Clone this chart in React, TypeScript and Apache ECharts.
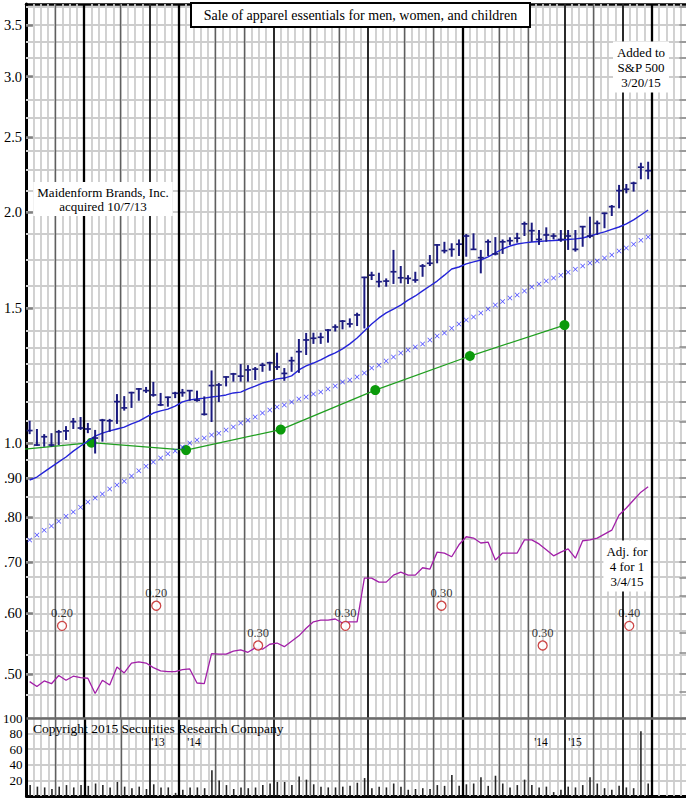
import React, { useEffect, useRef } from "react";
import * as echarts from "echarts";

const SERIF = '"Liberation Serif", "Times New Roman", serif';

// ---- axis extents (week index on x, price on log y) ----
const X_MIN = -0.5;
const X_MAX = 90.2;
const P_MIN = 0.4385;
const P_MAX = 3.729;

// ---- weekly price bars ----
const high = [
  1.069, 1.043, 1.027, 1.03, 1.04, 1.052, 1.078, 1.081, 1.062, 1.04,
  1.075, 1.075, 1.158, 1.151, 1.166, 1.179, 1.183, 1.201, 1.162, 1.149,
  1.166, 1.176, 1.172, 1.17, 1.15, 1.243, 1.197, 1.221, 1.234, 1.267,
  1.263, 1.256, 1.272, 1.276, 1.311, 1.252, 1.295, 1.366, 1.391, 1.392,
  1.392, 1.407, 1.427, 1.446, 1.453, 1.478, 1.646, 1.671, 1.666, 1.638,
  1.784, 1.7, 1.654, 1.671, 1.71, 1.757, 1.814, 1.828, 1.82, 1.841,
  1.871, 1.875, 1.784, 1.841, 1.854, 1.841, 1.853, 1.878, 1.942, 1.936,
  1.894, 1.909, 1.875, 1.894, 1.894, 1.894, 1.917, 1.971, 1.948, 1.995,
  2.041, 2.168, 2.174, 2.189, 2.317, 2.324,
];
const low = [
  1.027, 0.991, 0.989, 0.989, 0.994, 1.009, 1.043, 1.04, 1.03, 0.969,
  1.004, 1.034, 1.059, 1.102, 1.111, 1.135, 1.162, 1.149, 1.117, 1.115,
  1.144, 1.149, 1.135, 1.132, 1.086, 1.065, 1.131, 1.185, 1.202, 1.202,
  1.202, 1.208, 1.238, 1.242, 1.245, 1.205, 1.238, 1.234, 1.302, 1.346,
  1.346, 1.351, 1.397, 1.406, 1.414, 1.42, 1.41, 1.63, 1.595, 1.598,
  1.611, 1.614, 1.611, 1.617, 1.646, 1.7, 1.714, 1.766, 1.748, 1.752,
  1.748, 1.784, 1.663, 1.752, 1.755, 1.763, 1.811, 1.823, 1.86, 1.828,
  1.811, 1.828, 1.841, 1.828, 1.784, 1.775, 1.801, 1.848, 1.866, 1.904,
  1.975, 2.021, 2.114, 2.125, 2.205, 2.205,
];
const close = [
  1.038, 0.994, 1.019, 0.994, 1.034, 1.037, 1.066, 1.046, 1.043, 1.015,
  1.071, 1.069, 1.132, 1.111, 1.163, 1.176, 1.17, 1.155, 1.121, 1.147,
  1.161, 1.163, 1.17, 1.137, 1.09, 1.188, 1.19, 1.219, 1.23, 1.222,
  1.245, 1.248, 1.263, 1.272, 1.256, 1.232, 1.28, 1.315, 1.362, 1.369,
  1.373, 1.403, 1.416, 1.441, 1.429, 1.468, 1.643, 1.654, 1.622, 1.625,
  1.671, 1.641, 1.638, 1.63, 1.7, 1.714, 1.811, 1.78, 1.787, 1.815,
  1.86, 1.787, 1.743, 1.828, 1.763, 1.828, 1.834, 1.848, 1.929, 1.89,
  1.841, 1.866, 1.86, 1.841, 1.86, 1.787, 1.913, 1.86, 1.932, 1.991,
  2.031, 2.131, 2.14, 2.179, 2.286, 2.262,
];

// ---- moving average (solid blue) ----
const movingAvg = [
  0.895, 0.903, 0.917, 0.931, 0.945, 0.959, 0.976, 0.991, 1.006, 1.021,
  1.03, 1.037, 1.043, 1.049, 1.059, 1.068, 1.081, 1.094, 1.101, 1.107,
  1.117, 1.131, 1.138, 1.141, 1.144, 1.148, 1.151, 1.155, 1.162, 1.165,
  1.176, 1.186, 1.197, 1.204, 1.212, 1.215, 1.223, 1.245, 1.26, 1.271,
  1.283, 1.298, 1.31, 1.326, 1.346, 1.37, 1.399, 1.429, 1.455, 1.477,
  1.494, 1.512, 1.535, 1.554, 1.578, 1.601, 1.625, 1.654, 1.685, 1.695,
  1.711, 1.721, 1.731, 1.747, 1.768, 1.789, 1.805, 1.816, 1.822, 1.827,
  1.83, 1.833, 1.835, 1.838, 1.841, 1.844, 1.849, 1.86, 1.872, 1.883,
  1.897, 1.911, 1.929, 1.952, 1.981, 2.011,
];

// ---- blue "x" line ----
const xLine = [
  0.7475, 0.759, 0.77, 0.78, 0.791, 0.803, 0.813, 0.825, 0.838, 0.848,
  0.858, 0.871, 0.882, 0.892, 0.906, 0.92, 0.933, 0.945, 0.956, 0.968,
  0.976, 0.988, 1.0, 1.009, 1.015, 1.024, 1.03, 1.04, 1.049, 1.062,
  1.071, 1.081, 1.094, 1.104, 1.114, 1.121, 1.131, 1.141, 1.148, 1.158,
  1.165, 1.176, 1.186, 1.201, 1.208, 1.219, 1.234, 1.252, 1.263, 1.279,
  1.294, 1.31, 1.322, 1.334, 1.346, 1.362, 1.378, 1.391, 1.411, 1.429,
  1.446, 1.459, 1.477, 1.494, 1.512, 1.528, 1.545, 1.558, 1.577, 1.596,
  1.611, 1.625, 1.64, 1.654, 1.669, 1.684, 1.7, 1.715, 1.726, 1.741,
  1.757, 1.778, 1.794, 1.815, 1.837, 1.854,
];

// ---- quarterly green line ----
const earnWeek = [-4.5, 8.5, 21.5, 34.5, 47.5, 60.5, 73.5];
const earnVal = [0.974, 1.001, 0.979, 1.041, 1.172, 1.298, 1.424];

// ---- relative strength (purple) ----
const relStrength = [
  0.489, 0.482, 0.49, 0.486, 0.498, 0.491, 0.497, 0.495, 0.494, 0.472,
  0.491, 0.484, 0.511, 0.502, 0.517, 0.519, 0.517, 0.51, 0.505, 0.504,
  0.504, 0.507, 0.508, 0.487, 0.486, 0.532, 0.531, 0.531, 0.536, 0.538,
  0.534, 0.541, 0.539, 0.547, 0.549, 0.543, 0.552, 0.561, 0.574, 0.585,
  0.588, 0.588, 0.59, 0.583, 0.585, 0.585, 0.667, 0.667, 0.659, 0.659,
  0.673, 0.679, 0.673, 0.673, 0.688, 0.685, 0.721, 0.719, 0.711, 0.737,
  0.755, 0.752, 0.741, 0.743, 0.704, 0.719, 0.719, 0.719, 0.748, 0.748,
  0.739, 0.726, 0.713, 0.721, 0.728, 0.708, 0.746, 0.748, 0.752, 0.761,
  0.77, 0.806, 0.823, 0.843, 0.863, 0.877,
];

// ---- weekly volume ----
const volume = [
  14, 12, 11, 9, 12, 14, 11, 14, 13, 16, 14, 11, 18, 12, 10, 12, 9, 15, 11, 11,
  4, 8, 11, 11, 10, 33, 20, 14, 9, 11, 10, 11, 14, 16, 18, 18, 14, 25, 21, 15,
  12, 11, 11, 12, 13, 17, 23, 10, 12, 11, 16, 12, 8, 9, 10, 9, 14, 13, 27, 13,
  15, 16, 24, 13, 26, 16, 11, 14, 21, 14, 11, 12, 5, 8, 12, 11, 14, 24, 16, 10,
  8, 13, 11, 10, 83, 16,
];

// ---- dividends ----
const divWeek = [4.45, 17.4, 31.4, 43.4, 56.6, 70.5, 82.4];
const divLevel = [0.578, 0.614, 0.545, 0.578, 0.614, 0.545, 0.578];
const divAmt = ["0.20", "0.20", "0.30", "0.30", "0.30", "0.30", "0.40"];

// ---- axis ticks / grid ----
const priceTicks = [3.5, 3.0, 2.5, 2.0, 1.5, 1.0, 0.9, 0.8, 0.7, 0.6, 0.5];
const priceTickLabels = ["3.5", "3.0", "2.5", "2.0", "1.5", "1.0", ".90", ".80", ".70", ".60", ".50"];
const priceGridVals = [
  3.7, 3.5, 3.33, 3.17, 3.0, 2.8, 2.65, 2.5, 2.4, 2.27, 2.13, 2.0, 1.87, 1.73,
  1.6, 1.5, 1.4, 1.333, 1.267, 1.2, 1.133, 1.067, 1.0, 0.95, 0.9, 0.85, 0.8,
  0.75, 0.7, 0.667, 0.633, 0.6, 0.567, 0.533, 0.5, 0.475,
];
const monthBlack = [16.5, 33.5, 46.5, 73.5, 81.5];
const monthThick = [7.5, 20.5, 59.5, 85.5];
const monthGray = [3.5, 12.5, 25.5, 29.5, 38.5, 42.5, 51.5, 55.5, 64.5, 68.5, 77.5];
const yearLabels = ["'13", "'14", "'14", "'15"];
const yearLabelX = [158, 194, 541, 575];

const GRID = "#cdcdcd";
const weeks = high.map((_, i) => i);
const weeklyLines = Array.from({ length: 90 }, (_, k) => k + 0.5);

function buildOption(): any {
  const mlBase = {
    silent: true,
    symbol: ["none", "none"],
    label: { show: false },
    emphasis: { disabled: true },
    animation: false,
  };
  const vLines = (list: number[], color: string, width: number) =>
    list.map((x) => ({ xAxis: x, lineStyle: { color, width, type: "solid" } }));
  const monthLines = [
    ...vLines(monthGray, "#5f5f5f", 1.4),
    ...vLines(monthBlack, "#000", 1.6),
    ...vLines(monthThick, "#000", 2.3),
  ];
  const carrier = (xi: number, yi: number, z: number, data: any[]) => ({
    type: "line",
    xAxisIndex: xi,
    yAxisIndex: yi,
    data: [[X_MIN, yi === 0 ? 1 : 0]],
    showSymbol: false,
    lineStyle: { opacity: 0 },
    silent: true,
    z,
    markLine: { ...mlBase, z, data },
  });

  const priceTickMarks = priceTicks.map((v, k) => [
    {
      coord: [X_MIN, v],
      lineStyle: { color: "#808080", width: 2.5, type: "solid" },
      label: {
        show: true,
        position: "start",
        formatter: priceTickLabels[k],
        color: "#000",
        fontFamily: SERIF,
        fontSize: 14.5,
        distance: 4,
      },
    },
    { coord: [0.45, v] },
  ]);
  const rightTicks = priceGridVals.map((v) => [
    { coord: [89.3, v], lineStyle: { color: "#888", width: 1.5, type: "solid" } },
    { coord: [X_MAX, v] },
  ]);

  return {
    animation: false,
    backgroundColor: "#fff",
    grid: [
      { left: 26, right: 0, top: 4, height: 714 },
      { left: 26, right: 0, top: 718, height: 78 },
    ],
    xAxis: [
      {
        gridIndex: 0, type: "value", min: X_MIN, max: X_MAX, position: "top",
        axisLine: { show: true, onZero: false, lineStyle: { color: "#000", width: 2.5 } },
        axisTick: { show: false }, axisLabel: { show: false }, splitLine: { show: false },
      },
      {
        gridIndex: 1, type: "value", min: X_MIN, max: X_MAX, position: "bottom",
        axisLine: { show: true, onZero: false, lineStyle: { color: "#000", width: 3 } },
        axisTick: { show: false }, axisLabel: { show: false }, splitLine: { show: false },
      },
    ],
    yAxis: [
      {
        gridIndex: 0, type: "log", logBase: 10, min: P_MIN, max: P_MAX,
        axisLine: { show: true, onZero: false, lineStyle: { color: "#000", width: 3 } },
        axisTick: { show: false }, axisLabel: { show: false }, splitLine: { show: false },
      },
      {
        gridIndex: 1, type: "value", min: 0, max: 100, interval: 20,
        axisLine: { show: true, onZero: false, lineStyle: { color: "#000", width: 3 } },
        axisTick: { show: false },
        axisLabel: {
          formatter: (v: number) => (v === 0 ? "" : String(v)),
          color: "#000", fontFamily: SERIF, fontSize: 13, margin: 4,
        },
        splitLine: { show: true, lineStyle: { color: GRID, width: 1.8 } },
      },
    ],
    series: [
      // light grid
      carrier(0, 0, 1, [
        ...vLines(weeklyLines, GRID, 1.8),
        ...priceGridVals.map((v) => ({ yAxis: v, lineStyle: { color: GRID, width: 1.8, type: "solid" } })),
      ]),
      carrier(1, 1, 1, vLines(weeklyLines, GRID, 1.8)),
      // month / quarter lines, ticks
      carrier(0, 0, 2, [...monthLines, ...priceTickMarks, ...rightTicks]),
      carrier(1, 1, 2, [
        ...monthLines,
        { yAxis: 100, lineStyle: { color: "#6a6a6a", width: 2.5, type: "solid" } },
      ]),
      // relative strength
      {
        type: "line", xAxisIndex: 0, yAxisIndex: 0, z: 10,
        data: weeks.map((i) => [i, relStrength[i]]),
        showSymbol: false, silent: true,
        lineStyle: { color: "#a21fa8", width: 1.3, type: "solid" },
      },
      // green quarterly line
      {
        type: "line", xAxisIndex: 0, yAxisIndex: 0, z: 11,
        data: earnWeek.map((w, k) =>
          k === 0 ? { value: [w, earnVal[k]], symbol: "none" } : [w, earnVal[k]]
        ),
        symbol: "circle", symbolSize: 10, showAllSymbol: true, silent: true,
        itemStyle: { color: "#0a9a0a" },
        lineStyle: { color: "#1f9f1f", width: 1.3, type: "solid" },
      },
      // blue x line
      {
        type: "scatter", xAxisIndex: 0, yAxisIndex: 0, z: 11,
        data: weeks.map((i) => [i, xLine[i]]),
        symbol: "path://M0,1L1,0L5,4L9,0L10,1L6,5L10,9L9,10L5,6L1,10L0,9L4,5Z",
        symbolSize: 5, silent: true,
        itemStyle: { color: "#1c1cff" },
      },
      // moving average
      {
        type: "line", xAxisIndex: 0, yAxisIndex: 0, z: 12,
        data: weeks.map((i) => [i, movingAvg[i]]),
        showSymbol: false, silent: true,
        lineStyle: { color: "#2424d8", width: 1.4, type: "solid" },
      },
      // price bars
      {
        type: "custom", xAxisIndex: 0, yAxisIndex: 0, z: 13, silent: true,
        data: weeks.map((i) => [i, high[i], low[i], close[i]]),
        encode: { x: 0, y: [1, 2, 3] },
        renderItem: (params: any, api: any) => {
          const x = api.value(0);
          const hi = api.coord([x, api.value(1)]);
          const lo = api.coord([x, api.value(2)]);
          const c = api.coord([x, api.value(3)]);
          const col = "#1b1b80";
          return {
            type: "group",
            children: [
              { type: "line", shape: { x1: hi[0], y1: hi[1], x2: lo[0], y2: lo[1] }, style: { stroke: col, lineWidth: 2 } },
              { type: "line", shape: { x1: c[0] - 3, y1: c[1], x2: c[0] + 3, y2: c[1] }, style: { stroke: col, lineWidth: 1.7 } },
            ],
          };
        },
      },
      // dividends
      {
        type: "scatter", xAxisIndex: 0, yAxisIndex: 0, z: 13, silent: true,
        data: divWeek.map((w, k) => [w, divLevel[k]]),
        symbol: "circle", symbolSize: 9,
        itemStyle: { color: "#fff", borderColor: "#c01818", borderWidth: 1.3 },
        label: {
          show: true, position: "top", distance: 1,
          formatter: (p: any) => divAmt[p.dataIndex],
          color: "#000", fontFamily: SERIF, fontSize: 12.5,
        },
      },
      // volume
      {
        type: "custom", xAxisIndex: 1, yAxisIndex: 1, z: 13, silent: true,
        data: weeks.map((i) => [i, volume[i]]),
        encode: { x: 0, y: 1 },
        renderItem: (params: any, api: any) => {
          const top = api.coord([api.value(0), api.value(1)]);
          const base = api.coord([api.value(0), 0]);
          return {
            type: "rect",
            shape: { x: top[0] - 0.8, y: top[1], width: 1.6, height: base[1] - top[1] },
            style: { fill: "#262626" },
          };
        },
      },
    ],
    graphic: [
      {
        type: "rect", z: 100,
        shape: { x: 191, y: 3, width: 339, height: 24 },
        style: { fill: "#fff", stroke: "#000", lineWidth: 2 },
      },
      {
        type: "text", z: 101, x: 360.5, y: 15.5,
        style: {
          text: "Sale of apparel essentials for men, women, and children",
          font: `14px ${SERIF}`, fill: "#000",
          textAlign: "center", textVerticalAlign: "middle", align: "center", verticalAlign: "middle",
        },
      },
      {
        type: "text", z: 101, x: 103, y: 199,
        style: {
          text: "Maidenform Brands, Inc.\nacquired 10/7/13",
          font: `13px ${SERIF}`, fill: "#000", lineHeight: 14,
          backgroundColor: "#fff", padding: [3, 4],
          textAlign: "center", textVerticalAlign: "middle", align: "center", verticalAlign: "middle",
        },
      },
      {
        type: "text", z: 101, x: 641, y: 67,
        style: {
          text: "Added to\nS&P 500\n3/20/15",
          font: `13px ${SERIF}`, fill: "#000", lineHeight: 15,
          backgroundColor: "#fff", padding: [3, 4],
          textAlign: "center", textVerticalAlign: "middle", align: "center", verticalAlign: "middle",
        },
      },
      {
        type: "text", z: 101, x: 627, y: 566,
        style: {
          text: "Adj. for\n4 for 1\n3/4/15",
          font: `13px ${SERIF}`, fill: "#000", lineHeight: 15,
          backgroundColor: "#fff", padding: [3, 3],
          textAlign: "center", textVerticalAlign: "middle", align: "center", verticalAlign: "middle",
        },
      },
      {
        type: "text", z: 101, x: 33, y: 728,
        style: {
          text: "Copyright 2015 Securities Research Company",
          font: `13.5px ${SERIF}`, fill: "#000",
          textAlign: "left", textVerticalAlign: "middle", align: "left", verticalAlign: "middle",
        },
      },
      ...yearLabels.map((t, k) => ({
        type: "text", z: 101, x: yearLabelX[k], y: 742,
        style: {
          text: t, font: `11.5px ${SERIF}`, fill: "#000",
          textAlign: "center", textVerticalAlign: "middle", align: "center", verticalAlign: "middle",
        },
      })),
    ],
  };
}

export default function App() {
  const ref = useRef<HTMLDivElement>(null);
  useEffect(() => {
    if (!ref.current) return;
    const chart = echarts.init(ref.current, null, { renderer: "svg" });
    chart.setOption(buildOption());
    return () => chart.dispose();
  }, []);
  return (
    <div
      ref={ref}
      style={{ position: "absolute", left: 0, top: 0, width: 686, height: 798, background: "#fff" }}
    />
  );
}
